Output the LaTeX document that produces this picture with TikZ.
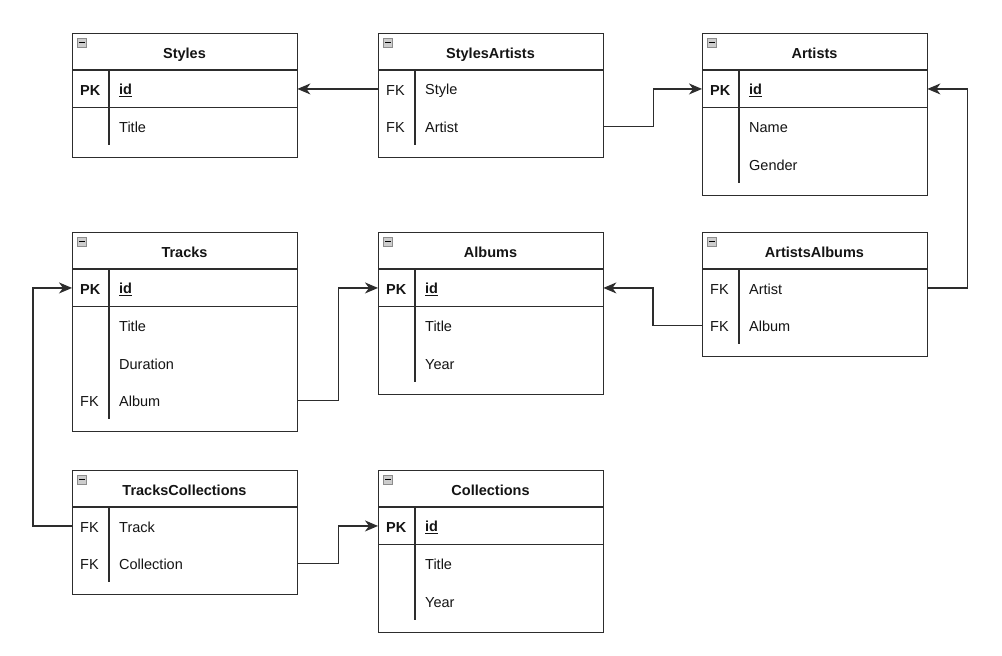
\documentclass[tikz,border=0pt]{standalone}
\usepackage{fontspec}
\setmainfont{Liberation Sans}
\usetikzlibrary{arrows.meta}
\definecolor{ln}{RGB}{45,45,45}
\definecolor{txt}{RGB}{20,20,20}
\definecolor{icon}{RGB}{205,205,205}
\tikzset{
  tblbox/.style={draw=ln, line width=1.1pt, fill=white, anchor=north west, minimum width=225pt, inner sep=0pt},
  rowbox/.style={anchor=north west, minimum width=225pt, minimum height=37.5pt, inner sep=0pt},
  keytxt/.style={anchor=west, inner sep=0pt, yshift=-1.5pt, font=\fontsize{14.5}{16}\selectfont, text=txt},
  fldtxt/.style={anchor=west, inner sep=0pt, yshift=-1.5pt, font=\fontsize{14.5}{16}\selectfont, text=txt},
  hdrtxt/.style={anchor=base, inner sep=0pt, font=\fontsize{14.5}{16}\selectfont\bfseries, text=txt},
  sepline/.style={draw=ln, line width=1.1pt},
  conn/.style={draw=ln, line width=1.1pt},
  arr/.style={-{Stealth[length=13pt, width=11pt, inset=4pt]}},
  minusicon/.style={draw={rgb,255:red,140;green,140;blue,140}, fill=icon, line width=0.6pt, minimum size=9pt, inner sep=0pt, anchor=north west}
}
% \ertable{name}{x}{y}{nrows}{title}{haspk}
\newcommand{\ertable}[6]{%
  \node[tblbox, minimum height={37pt+#4*37.5pt+12pt}] (#1) at (#2,#3) {};
  \node[hdrtxt] (#1-title) at (#2+112.5,#3+25) {#5};
  \node[minusicon] (#1-icon) at (#2+5,#3+4.5) {};
  \draw[line width=1pt, draw=black] ([xshift=2pt]#1-icon.west) -- ([xshift=-2pt]#1-icon.east);
  \draw[sepline] (#2,#3+37) -- (#2+225,#3+37);
  \draw[sepline] (#2+37,#3+37) -- (#2+37,#3+37+#4*37.5);
  \ifnum#6=1 \draw[sepline] (#2,#3+74.5) -- (#2+225,#3+74.5);\fi
}
% \errow{name}{x}{y}{index}{key}{field}
\newcommand{\errow}[6]{%
  \node[rowbox] (#1) at (#2,#3+37+#4*37.5) {};
  \node[keytxt] (#1-key) at (#2+8,#3+37+#4*37.5+18.75) {#5};
  \node[fldtxt] (#1-fld) at (#2+47,#3+37+#4*37.5+18.75) {#6};
}
\newcommand{\pkid}{\underline{\textbf{id}}}
\begin{document}
\begin{tikzpicture}[x=1pt, y=-1pt]
\useasboundingbox[fill=white] (0,0) rectangle (1002,656);

% Styles
\ertable{styles}{72}{33}{2}{Styles}{1}
\errow{stylesId}{72}{33}{0}{\textbf{PK}}{\pkid}
\errow{stylesTitle}{72}{33}{1}{}{Title}

% StylesArtists
\ertable{sa}{378}{33}{2}{StylesArtists}{0}
\errow{saStyle}{378}{33}{0}{FK}{Style}
\errow{saArtist}{378}{33}{1}{FK}{Artist}

% Artists
\ertable{artists}{702}{33}{3}{Artists}{1}
\errow{artistsId}{702}{33}{0}{\textbf{PK}}{\pkid}
\errow{artistsName}{702}{33}{1}{}{Name}
\errow{artistsGender}{702}{33}{2}{}{Gender}

% Tracks
\ertable{tracks}{72}{232}{4}{Tracks}{1}
\errow{tracksId}{72}{232}{0}{\textbf{PK}}{\pkid}
\errow{tracksTitle}{72}{232}{1}{}{Title}
\errow{tracksDuration}{72}{232}{2}{}{Duration}
\errow{tracksAlbum}{72}{232}{3}{FK}{Album}

% Albums
\ertable{albums}{378}{232}{3}{Albums}{1}
\errow{albumsId}{378}{232}{0}{\textbf{PK}}{\pkid}
\errow{albumsTitle}{378}{232}{1}{}{Title}
\errow{albumsYear}{378}{232}{2}{}{Year}

% ArtistsAlbums
\ertable{aa}{702}{232}{2}{ArtistsAlbums}{0}
\errow{aaArtist}{702}{232}{0}{FK}{Artist}
\errow{aaAlbum}{702}{232}{1}{FK}{Album}

% TracksCollections
\ertable{tc}{72}{470}{2}{TracksCollections}{0}
\errow{tcTrack}{72}{470}{0}{FK}{Track}
\errow{tcCollection}{72}{470}{1}{FK}{Collection}

% Collections
\ertable{coll}{378}{470}{3}{Collections}{1}
\errow{collId}{378}{470}{0}{\textbf{PK}}{\pkid}
\errow{collTitle}{378}{470}{1}{}{Title}
\errow{collYear}{378}{470}{2}{}{Year}

% Connectors
\draw[conn, arr] (saStyle.west) -- (stylesId.east);
\draw[conn, arr] (saArtist.east) -- ++(50,0) |- (artistsId.west);
\draw[conn, arr] (aaArtist.east) -- ++(40,0) |- (artistsId.east);
\draw[conn, arr] (aaAlbum.west) -- ++(-49,0) |- (albumsId.east);
\draw[conn, arr] (tracksAlbum.east) -- ++(41,0) |- (albumsId.west);
\draw[conn, arr] (tcTrack.west) -- ++(-39,0) |- (tracksId.west);
\draw[conn, arr] (tcCollection.east) -- ++(41,0) |- (collId.west);
\end{tikzpicture}
\end{document}
